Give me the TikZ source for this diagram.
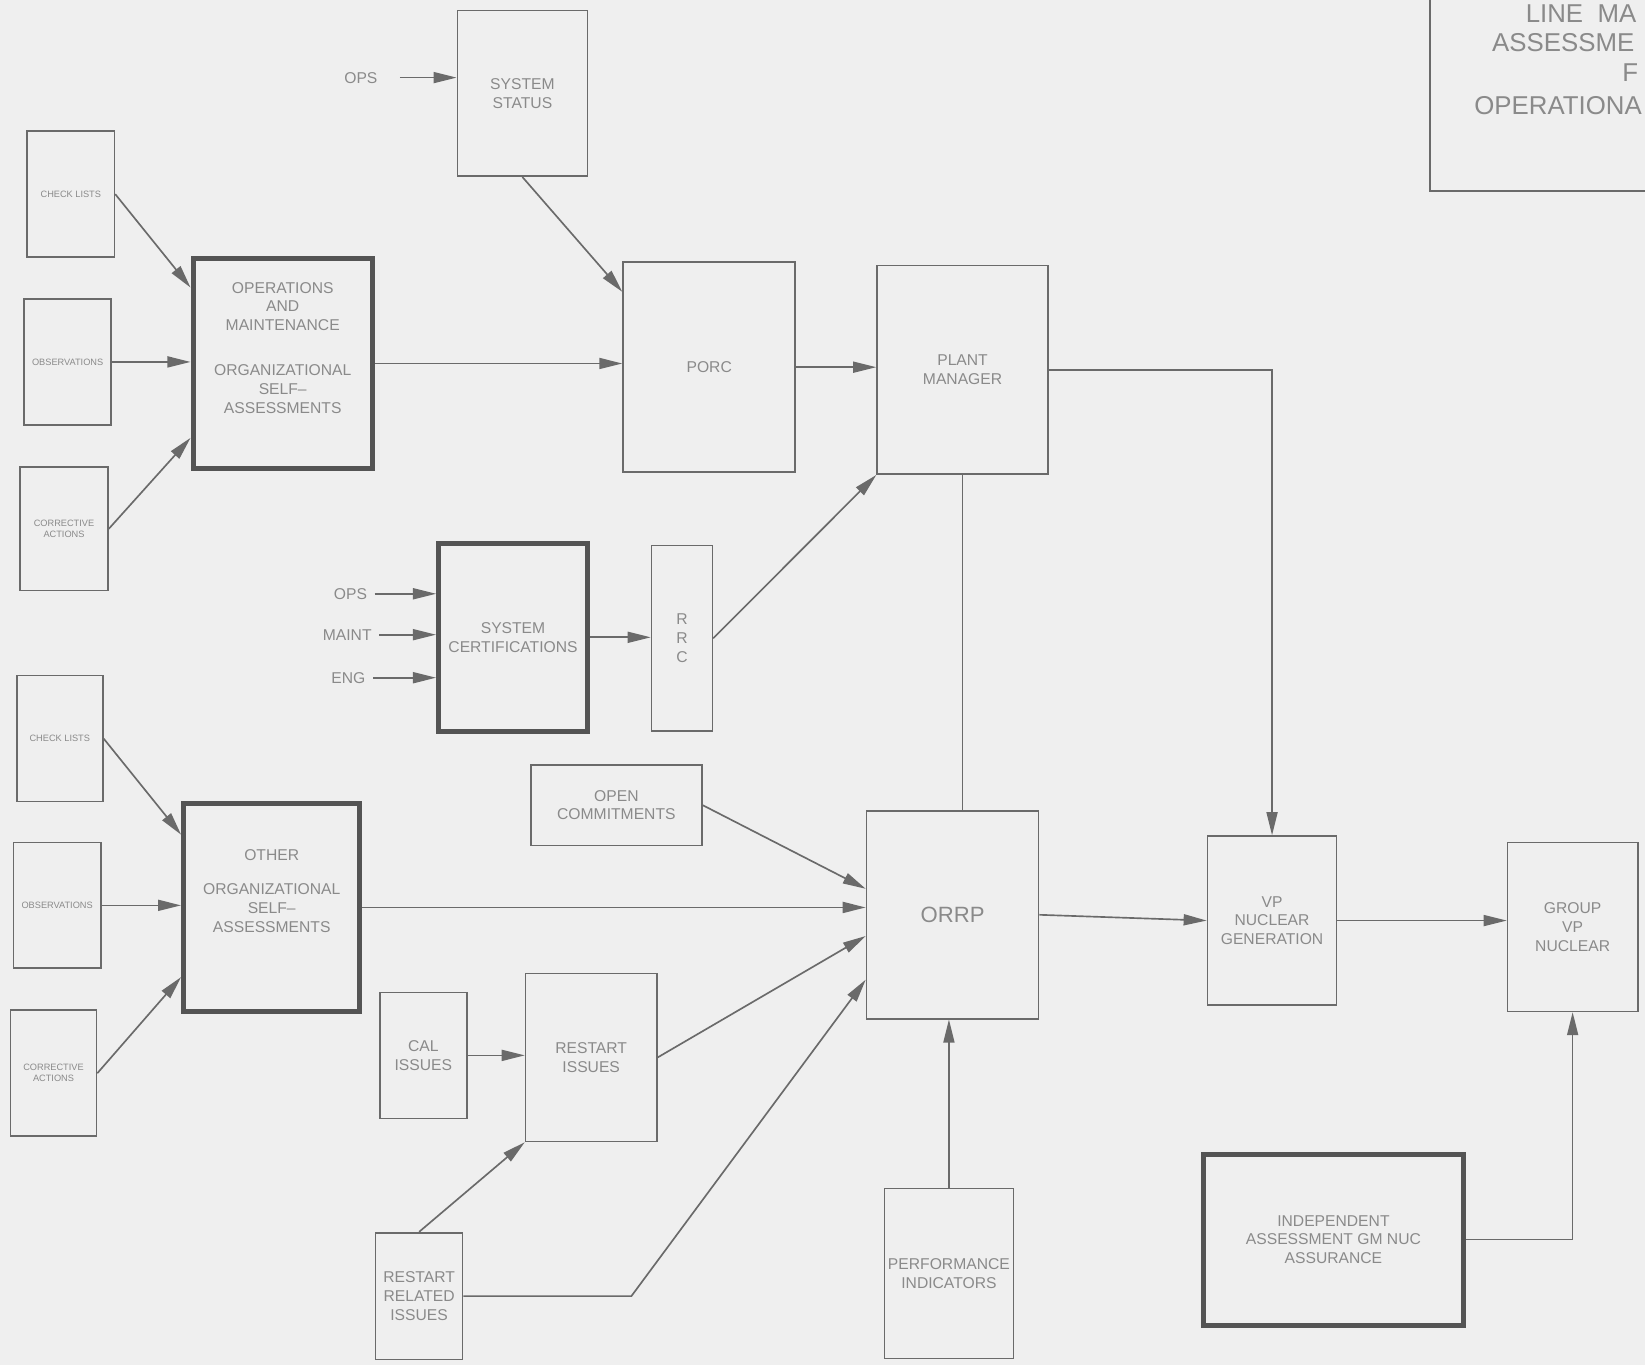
\documentclass[tikz,border=0pt]{standalone}
\usepackage{fontspec}
\setmainfont{Liberation Sans}
\usetikzlibrary{arrows.meta}
\definecolor{bgc}{HTML}{EFEFEF}
\definecolor{linec}{HTML}{6A6A6A}
\definecolor{thickc}{HTML}{545454}
\definecolor{textc}{HTML}{8A8A8A}
\tikzstyle{bx}=[draw=linec,line width=0.9pt,inner sep=1pt,align=center,text=textc,font=\fontsize{8.5}{10.2}\selectfont]
\tikzstyle{tbx}=[bx,draw=thickc,line width=2.7pt]
\tikzstyle{sbx}=[bx,font=\fontsize{5}{6}\selectfont]
\tikzstyle{lb}=[text=textc,font=\fontsize{8.5}{10.2}\selectfont,inner xsep=4pt]
\tikzstyle{tt}=[text=textc,font=\fontsize{14}{17}\selectfont,anchor=base west,inner sep=0pt]
\tikzstyle{ar}=[draw=linec,line width=0.9pt,-{Triangle[length=0.44cm,width=0.21cm]}]
\tikzstyle{ln}=[draw=linec,line width=0.9pt]

\begin{document}
\begin{tikzpicture}
\clip (0,0) rectangle (31.36,26.02);
\fill[bgc] (0,0) rectangle (31.36,26.02);
% title
\node[bx,minimum width=5.14cm,minimum height=4.24cm] (ttl) at (29.83,24.50) {};
\node[tt] (t1) at (29.08,25.60) {LINE \ MA};
\node[tt] (t2) at (28.44,25.03) {ASSESSME};
\node[tt] (t3) at (30.92,24.46) {F};
\node[tt] (t4) at (28.10,23.83) {OPERATIONA};
% upper part
\node[lb] (opsT) at (6.88,24.54) {OPS};
\node[bx,minimum width=2.48cm,minimum height=3.16cm] (status) at (9.96,24.24) {SYSTEM\\STATUS};
\node[sbx,minimum width=1.66cm,minimum height=2.4cm] (chk1) at (1.35,22.32) {CHECK LISTS};
\node[sbx,minimum width=1.66cm,minimum height=2.4cm] (obs1) at (1.29,19.12) {OBSERVATIONS};
\node[sbx,minimum width=1.68cm,minimum height=2.36cm] (cor1) at (1.22,15.94) {CORRECTIVE\\ACTIONS};
\node[tbx,minimum width=3.42cm,minimum height=4.02cm] (opsm) at (5.39,19.09) {OPERATIONS\\AND\\MAINTENANCE\\[0.5cm]ORGANIZATIONAL\\SELF--\\ASSESSMENTS\\[0.24cm]\mbox{}};
\node[bx,minimum width=3.28cm,minimum height=4.0cm] (porc) at (13.52,19.02) {PORC};
\node[bx,minimum width=3.26cm,minimum height=3.98cm] (pm) at (18.35,18.97) {PLANT\\MANAGER};
% certifications
\node[lb] (opsS) at (6.68,14.70) {OPS};
\node[lb] (maintS) at (6.62,13.92) {MAINT};
\node[lb] (engS) at (6.64,13.10) {ENG};
\node[tbx,minimum width=2.84cm,minimum height=3.58cm] (sysc) at (9.78,13.87) {SYSTEM\\CERTIFICATIONS};
\node[bx,minimum width=1.16cm,minimum height=3.54cm] (rrc) at (13.0,13.85) {R\\R\\C};
% lower part
\node[sbx,minimum width=1.64cm,minimum height=2.4cm] (chk2) at (1.14,11.94) {CHECK LISTS};
\node[sbx,minimum width=1.66cm,minimum height=2.4cm] (obs2) at (1.09,8.76) {OBSERVATIONS};
\node[sbx,minimum width=1.64cm,minimum height=2.4cm] (cor2) at (1.02,5.56) {CORRECTIVE\\ACTIONS};
\node[tbx,minimum width=3.36cm,minimum height=3.96cm] (other) at (5.18,8.72) {OTHER\\[0.3cm]ORGANIZATIONAL\\SELF--\\ASSESSMENTS\\[0.28cm]\mbox{}};
\node[bx,minimum width=3.26cm,minimum height=1.54cm] (opcom) at (11.75,10.67) {OPEN\\COMMITMENTS};
\node[bx,minimum width=3.28cm,minimum height=3.96cm,font=\fontsize{12}{14}\selectfont] (orrp) at (18.16,8.58) {ORRP};
\node[bx,minimum width=1.66cm,minimum height=2.4cm] (cal) at (8.07,5.90) {CAL\\ISSUES};
\node[bx,minimum width=2.5cm,minimum height=3.2cm] (rst) at (11.27,5.86) {RESTART\\ISSUES};
\node[bx,minimum width=1.66cm,minimum height=2.42cm] (rri) at (7.99,1.31) {RESTART\\RELATED\\ISSUES};
\node[bx,minimum width=2.46cm,minimum height=3.24cm] (perf) at (18.09,1.74) {PERFORMANCE\\INDICATORS};
\node[bx,minimum width=2.46cm,minimum height=3.22cm] (vpgen) at (24.25,8.47) {VP\\NUCLEAR\\GENERATION};
\node[bx,minimum width=2.48cm,minimum height=3.22cm] (grp) at (29.98,8.35) {GROUP\\VP\\NUCLEAR};
\node[tbx,minimum width=4.96cm,minimum height=3.26cm] (indep) at (25.42,2.39) {INDEPENDENT\\ASSESSMENT GM NUC\\ASSURANCE};
% connectors
\draw[ar,shorten <=8pt] (opsT) -- (opsT -| status.west);
\draw[ar] (status.south) -- ([yshift=-0.58cm]porc.north west);
\draw[ar] (chk1.east) -- ([yshift=-0.61cm]opsm.north west);
\draw[ar] (obs1.east) -- (obs1.east -| opsm.west);
\draw[ar] (cor1.east) -- ([yshift=0.64cm]opsm.south west);
\draw[ar] (opsm.east) -- (opsm.east -| porc.west);
\draw[ar] (porc.east) -- (porc.east -| pm.west);
\draw[ar] (pm.east) -| (vpgen.north);
\draw[ln] (pm.south) -- (pm.south |- orrp.north);
\draw[ar] (opsS) -- (opsS -| sysc.west);
\draw[ar] (maintS) -- (maintS -| sysc.west);
\draw[ar] (engS) -- (engS -| sysc.west);
\draw[ar] (sysc.east) -- (sysc.east -| rrc.west);
\draw[ar] (rrc.east) -- (pm.south west);
\draw[ar] (chk2.east) -- ([yshift=-0.64cm]other.north west);
\draw[ar] (obs2.east) -- (obs2.east -| other.west);
\draw[ar] (cor2.east) -- ([yshift=0.7cm]other.south west);
\draw[ar] (other.east) -- (other.east -| orrp.west);
\draw[ar] (opcom.east) -- ([yshift=-1.5cm]orrp.north west);
\draw[ar] (cal.east) -- (cal.east -| rst.west);
\draw[ar] (rst.east) -- ([yshift=-2.4cm]orrp.north west);
\draw[ar] (rri.north) -- (rst.south west);
\draw[ar] (rri.east) -- ++(3.2,0) -- ([yshift=0.76cm]orrp.south west);
\draw[ar] (perf.north) -- (perf.north |- orrp.south);
\draw[ar] (orrp.east) -- (vpgen.west);
\draw[ar] (vpgen.east) -- (vpgen.east -| grp.west);
\draw[ar] (indep.east) -| (grp.south);
\end{tikzpicture}
\end{document}
